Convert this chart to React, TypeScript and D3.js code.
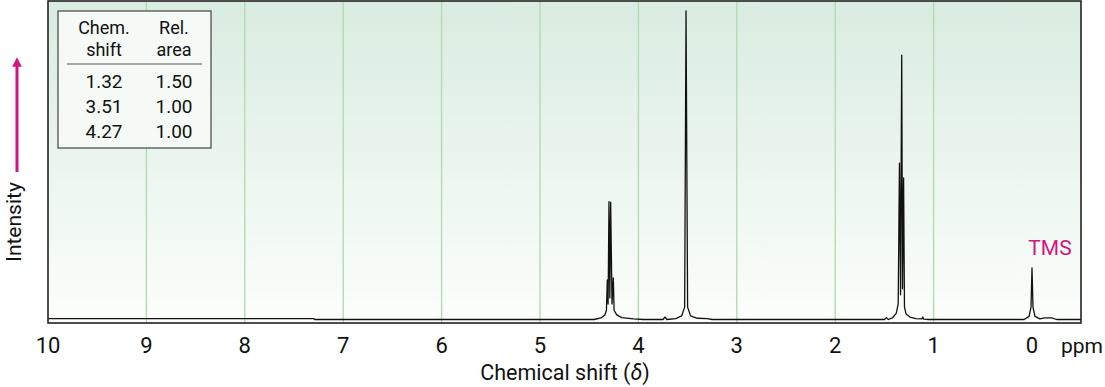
import React from "react";
import * as d3 from "d3";

// ---- data ----
const tickValues = [10, 9, 8, 7, 6, 5, 4, 3, 2, 1, 0];
const gridValues = [9, 8, 7, 6, 5, 4, 3, 2, 1];

// spectrum trace: chemical shift (ppm) and relative intensity (singlet at 3.51 = 100)
const spectrumPpm = [
  10.0, 7.3, 7.29, 4.45, 4.38, 4.34, 4.325, 4.316, 4.308, 4.299, 4.29, 4.282, 4.268, 4.255,
  4.247, 4.22, 4.17, 4.05, 3.95, 3.75, 3.73, 3.71, 3.62, 3.56, 3.53, 3.516, 3.5, 3.47, 3.4,
  3.3, 3.25, 1.5, 1.48, 1.46, 1.42, 1.38, 1.36, 1.347, 1.336, 1.324, 1.316, 1.305, 1.296,
  1.28, 1.24, 1.18, 1.12, 1.11, 1.1, 1.05, 0.08, 0.03, 0.01, 0.0, -0.01, -0.03, -0.08,
  -0.13, -0.2, -0.25, -0.5,
];
const spectrumIntensity = [
  0.3, 0.3, 0, 0, 0.5, 1.5, 3, 12.8, 5, 38.2, 7, 38.0, 5, 13.5,
  3, 1.5, 0.6, 0.2, 0, 0, 0.8, 0, 0.3, 1.2, 4, 100, 4, 1.2, 0.4,
  0.3, 0, 0, 0.6, 0, 0.5, 2, 5, 50.7, 8, 85.7, 10, 45.9, 4,
  1.8, 0.8, 0.3, 0.2, 0.8, 0.1, 0, 0, 1, 4, 16.7, 4, 1, 0.2,
  0.5, 0.5, 0, 0,
];

const tableShifts = ["1.32", "3.51", "4.27"];
const tableAreas = ["1.50", "1.00", "1.00"];

const FONT = "Roboto, 'Noto Sans', sans-serif";
const MAGENTA = "#d4157f";

export default function App() {
  const W = 1105;
  const H = 387;
  const left = 48;
  const right = 1081;
  const top = 1;
  const bottom = 323;

  const x = d3.scaleLinear().domain([10, -0.5]).range([left, right + 0.2]);
  const y = d3.scaleLinear().domain([0, 100]).range([319.5, 11]);

  const pts: [number, number][] = spectrumPpm.map((p, i) => [p, spectrumIntensity[i]]);
  const line = d3
    .line<[number, number]>()
    .x((d) => x(d[0]))
    .y((d) => y(d[1]));

  return (
    <svg
      width={W}
      height={H}
      style={{ position: "absolute", left: 0, top: 0, background: "#fff" }}
      fontFamily={FONT}
    >
      <defs>
        <linearGradient id="bg" x1="0" y1="0" x2="0" y2="1">
          <stop offset="0%" stopColor="#d9ece0" />
          <stop offset="100%" stopColor="#fcfefc" />
        </linearGradient>
        <marker id="arr" viewBox="0 0 10 10" refX="5" refY="5" markerWidth="3.2" markerHeight="3.2" orient="auto">
          <path d="M0,0 L10,5 L0,10 z" fill={MAGENTA} />
        </marker>
      </defs>

      {/* plot background */}
      <rect x={left} y={top} width={right - left} height={bottom - top} fill="url(#bg)" />

      {/* grid lines */}
      {gridValues.map((v) => (
        <line key={v} x1={x(v)} x2={x(v)} y1={top} y2={bottom} stroke="#b2dcae" strokeWidth={1.4} />
      ))}

      {/* spectrum */}
      <path d={line(pts) || ""} fill="none" stroke="#111" strokeWidth={1.3} strokeLinejoin="round" />

      {/* frame */}
      <rect x={left} y={top} width={right - left} height={bottom - top} fill="none" stroke="#222" strokeWidth={1.6} />

      {/* TMS label */}
      <text x={x(0) + 18} y={255} textAnchor="middle" fontSize={21} fill={MAGENTA}>
        TMS
      </text>

      {/* tick labels */}
      {tickValues.map((v) => (
        <text key={v} x={x(v)} y={353} textAnchor="middle" fontSize={22} fill="#111">
          {v}
        </text>
      ))}
      <text x={1082} y={353} textAnchor="middle" fontSize={21} fill="#111">
        ppm
      </text>
      <text x={565} y={380} textAnchor="middle" fontSize={21.5} fill="#111">
        Chemical shift (<tspan fontStyle="italic">δ</tspan>)
      </text>

      {/* intensity label + arrow */}
      <text
        transform="translate(21,222) rotate(-90)"
        textAnchor="middle"
        fontSize={21}
        fill="#111"
      >
        Intensity
      </text>
      <line x1={17} x2={17} y1={172} y2={62} stroke={MAGENTA} strokeWidth={3} markerEnd="url(#arr)" />

      {/* table */}
      <rect x={58} y={11} width={153} height={137} fill="#f5faf6" stroke="#444" strokeWidth={1.2} />
      <text x={104} y={34} textAnchor="middle" fontSize={18} fill="#111">Chem.</text>
      <text x={104} y={56} textAnchor="middle" fontSize={18} fill="#111">shift</text>
      <text x={174} y={34} textAnchor="middle" fontSize={18} fill="#111">Rel.</text>
      <text x={174} y={56} textAnchor="middle" fontSize={18} fill="#111">area</text>
      <line x1={67} x2={202} y1={64} y2={64} stroke="#555" strokeWidth={1.2} />
      {tableShifts.map((s, i) => (
        <text key={"s" + i} x={104} y={88 + i * 25} textAnchor="middle" fontSize={19} fill="#111">
          {s}
        </text>
      ))}
      {tableAreas.map((s, i) => (
        <text key={"a" + i} x={174} y={88 + i * 25} textAnchor="middle" fontSize={19} fill="#111">
          {s}
        </text>
      ))}
    </svg>
  );
}
